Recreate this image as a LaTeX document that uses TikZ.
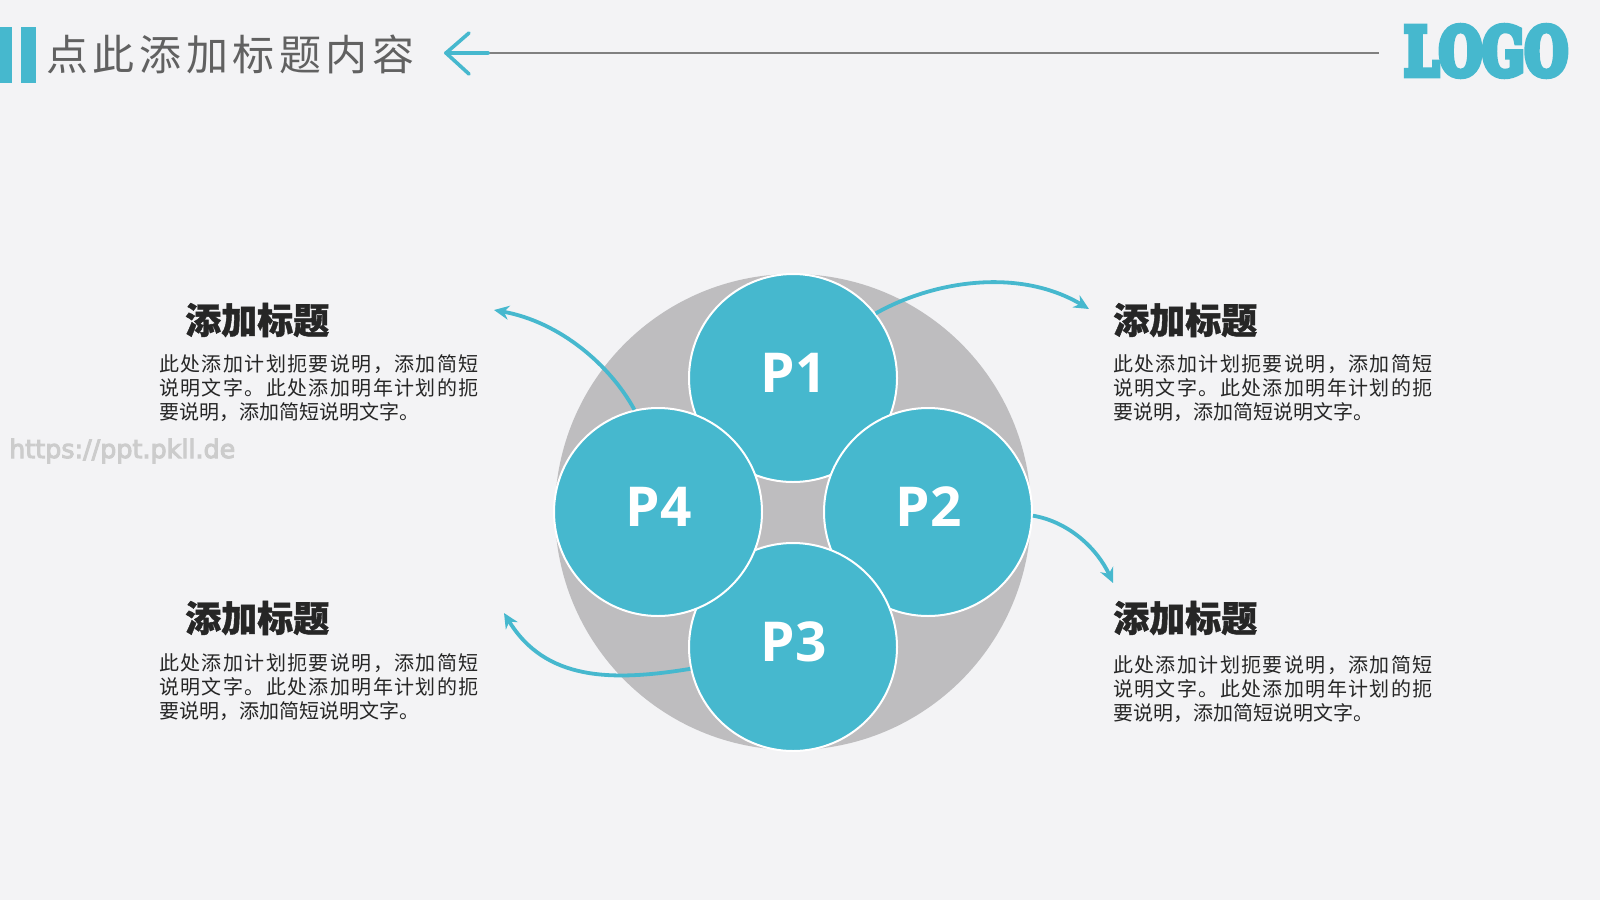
\documentclass[tikz,border=0pt]{standalone}
\usepackage{fontspec}
\usetikzlibrary{arrows.meta}
\setmainfont{Noto Sans CJK SC}
\newfontfamily\latinbold{Open Sans}
\newfontfamily\wmfont{DejaVu Sans}
\newfontfamily\logofont{DejaVu Serif Bold}
\newfontfamily\titlefont[LetterSpace=11]{Noto Sans CJK SC}
\newfontfamily\bodyspaced[LetterSpace=7]{Noto Sans CJK SC}
\definecolor{bgc}{HTML}{F3F3F5}
\definecolor{teal1}{HTML}{46B8CE}
\definecolor{grayc}{HTML}{BEBDBF}
\definecolor{darkt}{HTML}{262626}
\newcommand{\bodylines}{{\bodyspaced 此处添加计划扼要说明，添加简短}\\{\bodyspaced 说明文字。此处添加明年计划的扼}\\要说明，添加简短说明文字。}
\newcommand{\petallabel}[1]{\hspace*{1.5pt}\raisebox{11pt}{#1}}
\newcommand{\stroked}[2]{\special{pdf:code q 2 Tr #1 w}#2\special{pdf:code Q}}
\tikzset{
  petal/.style={circle,draw=white,line width=2pt,fill=teal1,minimum size=208pt,inner sep=0pt,text=white,font=\fontsize{55}{60}\selectfont\latinbold\bfseries},
  heading/.style={anchor=west,inner sep=0pt,text=darkt,font=\fontsize{36}{40}\selectfont\bfseries},
  bodytext/.style={anchor=west,inner sep=0pt,align=left,text=darkt,font=\fontsize{20}{24}\selectfont},
  flow/.style={draw=teal1,line width=3.8pt,-{Stealth[length=15pt,width=14pt]}}
}
\begin{document}
\begin{tikzpicture}[x=1pt,y=-1pt]
\useasboundingbox (0,0) rectangle (1600,900);
\fill[bgc] (0,0) rectangle (1600,900);
% header
\fill[teal1] (0,27) rectangle (12,83);
\fill[teal1] (21,27) rectangle (36,83);
\node[anchor=west,inner sep=0pt,text=black!62,font=\fontsize{42}{44}\selectfont\titlefont] (title) at (46,54) {点此添加标题内容};
\coordinate (lineend) at (1379,53);
\coordinate (lineteal) at (488,53);
\coordinate (tip) at (446,53);
\draw[black!50,line width=1.6pt] (lineteal) -- (lineend);
\draw[teal1,line width=3.6pt,line cap=round,line join=round] (469,33) -- (tip) -- (469,74);
\draw[teal1,line width=3.6pt,line cap=round] (tip) -- (lineteal);
\node[inner sep=0pt,text=teal1] (logo) at (1486,51) {\resizebox{164pt}{49pt}{\logofont\stroked{1.0}{LOGO}}};
% main
\fill[grayc] (793,512) circle (238);
\node[petal] (p1) at (793,378) {\petallabel{P1}};
\node[petal] (p2) at (928,512) {\petallabel{P2}};
\node[petal] (p3) at (793,647) {\petallabel{P3}};
\node[petal] (p4) at (658,512) {\petallabel{P4}};
% texts
\node[heading] (h1) at (1113,320) {\stroked{0.4}{添加标题}};
\node[bodytext] (b1) at (1113,388.5) {\bodylines};
\node[heading] (h2) at (1113,618) {\stroked{0.4}{添加标题}};
\node[bodytext] (b2) at (1113,689.5) {\bodylines};
\node[heading] (h3) at (185,618) {\stroked{0.4}{添加标题}};
\node[bodytext] (b3) at (159,687.5) {\bodylines};
\node[heading] (h4) at (185,320) {\stroked{0.4}{添加标题}};
\node[bodytext] (b4) at (159,388.5) {\bodylines};
\node[anchor=west,inner sep=0pt,text=black!20,font=\fontsize{25.4}{28}\selectfont\wmfont] (wm) at (9,451) {\stroked{1.0}{https://ppt.pkll.de}};
% connectors
\coordinate (t1) at (1089,309);
\coordinate (t2) at (1113,583);
\coordinate (t3) at (504,613);
\coordinate (t4) at (494,310);
\draw[flow] (p1.38) .. controls (935,280) and (1020,268) .. (t1);
\draw[flow] (p2.-2) .. controls (1070,522) and (1098,550) .. (t2);
\draw[flow] (p3.192) .. controls (610,682) and (545,680) .. (t3);
\draw[flow] (p4.103) .. controls (610,365) and (560,322) .. (t4);
\end{tikzpicture}
\end{document}
